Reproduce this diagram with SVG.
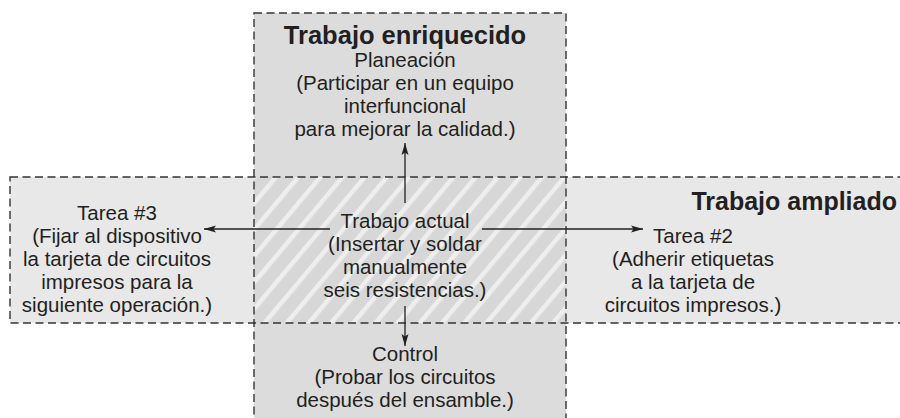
<svg xmlns="http://www.w3.org/2000/svg" width="900" height="418" viewBox="0 0 900 418">
  <style>
    .t { font-family: "Liberation Sans", Arial, Helvetica, sans-serif; font-size: 20.5px; fill: #231f20; text-anchor: middle; }
    .h { font-family: "Liberation Sans", Arial, Helvetica, sans-serif; font-size: 25.5px; font-weight: bold; fill: #231f20; }
    .box { stroke: #333333; stroke-width: 1.4; stroke-dasharray: 8 4.5; }
    .conn { stroke: #231f20; stroke-width: 1.3; fill: none; marker-end: url(#arr); }
  </style>
  <defs>
    <pattern id="hatch" patternUnits="userSpaceOnUse" width="17" height="17" patternTransform="rotate(40)">
      <rect width="17" height="17" fill="#d7d7d8"/>
      <rect x="0" y="0" width="4.5" height="17" fill="#eeeeef"/>
    </pattern>
    <marker id="arr" markerUnits="userSpaceOnUse" markerWidth="14" markerHeight="10" refX="12" refY="4" orient="auto">
      <path d="M0,0.5 L12,4 L0,7.5 L2.5,4 Z" fill="#231f20"/>
    </marker>
  </defs>

  <rect width="900" height="418" fill="#ffffff"/>

  <g id="enriquecido">
    <rect x="254" y="13" width="312" height="420" fill="#dcdcdd"/>
  </g>
  <g id="ampliado">
    <rect x="10" y="177" width="900" height="146" fill="#e8e8e9"/>
  </g>
  <g id="actual">
    <rect x="254" y="177" width="312" height="146" fill="url(#hatch)"/>
  </g>
  <g id="outlines">
    <rect class="box" x="254" y="13" width="312" height="420" fill="none"/>
    <rect class="box" x="10" y="177" width="900" height="146" fill="none"/>
  </g>

  <g id="connectors">
    <line class="conn" x1="405" y1="203" x2="405" y2="143"/>
    <line class="conn" x1="330" y1="229" x2="204" y2="229"/>
    <line class="conn" x1="482" y1="229" x2="643" y2="229"/>
    <line class="conn" x1="405" y1="306" x2="405" y2="346"/>
  </g>

  <g id="node-enriquecido-label">
    <text class="h" x="405" y="44" text-anchor="middle">Trabajo enriquecido</text>
  </g>
  <g id="node-planeacion">
    <text class="t" x="405" y="67">Planeación</text>
    <text class="t" x="405" y="90">(Participar en un equipo</text>
    <text class="t" x="405" y="113">interfuncional</text>
    <text class="t" x="405" y="135.5">para mejorar la calidad.)</text>
  </g>
  <g id="node-tarea3">
    <text class="t" x="117" y="220">Tarea #3</text>
    <text class="t" x="117" y="243">(Fijar al dispositivo</text>
    <text class="t" x="117" y="266">la tarjeta de circuitos</text>
    <text class="t" x="117" y="289">impresos para la</text>
    <text class="t" x="117" y="312">siguiente operación.)</text>
  </g>
  <g id="node-actual">
    <text class="t" x="405" y="228">Trabajo actual</text>
    <text class="t" x="405" y="251">(Insertar y soldar</text>
    <text class="t" x="405" y="274">manualmente</text>
    <text class="t" x="405" y="297">seis resistencias.)</text>
  </g>
  <g id="node-ampliado-label">
    <text class="h" x="897" y="210" text-anchor="end" style="font-size:25px">Trabajo ampliado</text>
  </g>
  <g id="node-tarea2">
    <text class="t" x="693" y="243">Tarea #2</text>
    <text class="t" x="693" y="266">(Adherir etiquetas</text>
    <text class="t" x="693" y="289">a la tarjeta de</text>
    <text class="t" x="693" y="312">circuitos impresos.)</text>
  </g>
  <g id="node-control">
    <text class="t" x="405" y="361">Control</text>
    <text class="t" x="405" y="384">(Probar los circuitos</text>
    <text class="t" x="405" y="407">después del ensamble.)</text>
  </g>
</svg>
